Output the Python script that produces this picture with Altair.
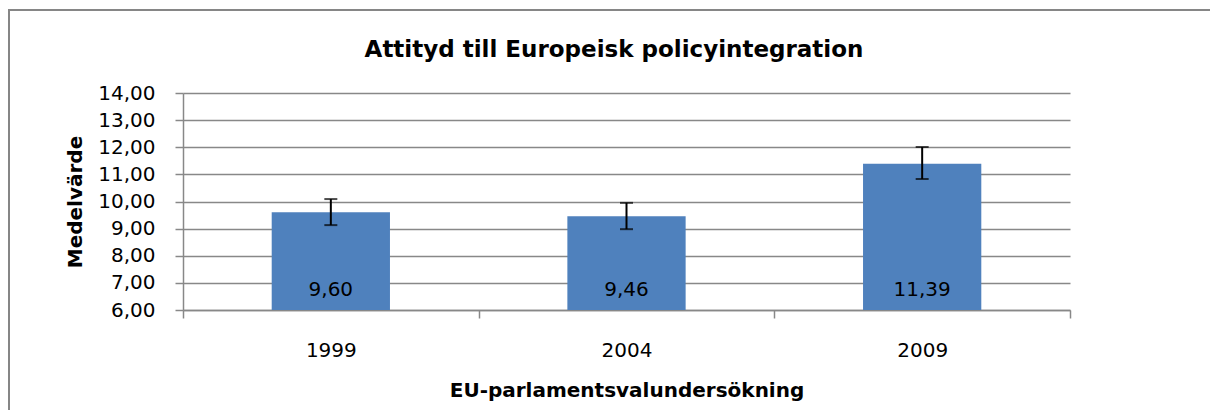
import altair as alt
import pandas as pd

years = ["1999", "2004", "2009"]
means = [9.60, 9.46, 11.39]
ci_low = [9.13, 8.98, 10.83]
ci_high = [10.09, 9.95, 12.01]

chart_title = "Attityd till Europeisk policyintegration"
x_title = "EU-parlamentsvalundersökning"
y_title = "Medelvärde"
y_domain = [6, 14]
y_ticks = [6, 7, 8, 9, 10, 11, 12, 13, 14]

df = pd.DataFrame({"year": years, "mean": means, "lo": ci_low, "hi": ci_high})
df["label"] = [f"{v:.2f}".replace(".", ",") for v in means]
df["base"] = y_domain[0]
tdf = pd.DataFrame({"t": [chart_title]})

W, H = 887, 217
FONT = "DejaVu Sans"
GRID = "#888888"

x_axis = alt.Axis(
    title=x_title, labelAngle=0, tickBand="extent", tickSize=8, tickColor=GRID,
    tickWidth=1.5, domainColor=GRID, domainWidth=1.5, labelPadding=22,
    labelFontSize=20, labelFont=FONT, labelColor="black", titleFont=FONT,
    titleFontSize=20, titleFontWeight="bold", titleColor="black", titleY=80,
    titleBaseline="middle", grid=False,
)
y_axis = alt.Axis(
    title=y_title, values=y_ticks, grid=True, gridColor=GRID, gridWidth=1.5,
    tickSize=8, tickColor=GRID, tickWidth=1.5, domainColor=GRID, domainWidth=1.5,
    labelPadding=20, labelFontSize=20, labelFont=FONT, labelColor="black",
    labelExpr="replace(format(datum.value, '.2f'), '.', ',')",
    titleFont=FONT, titleFontSize=20, titleFontWeight="bold", titleColor="black",
    titleX=-108, titleY=H / 2, titleAlign="center", titleBaseline="middle",
)
x_scale = alt.Scale(paddingInner=0, paddingOuter=0)
y_scale = alt.Scale(domain=y_domain, zero=False, nice=False)

X = alt.X("year:N", sort=years, scale=x_scale, axis=x_axis)

bars = alt.Chart(df).mark_bar(color="#4F81BD", width=alt.RelativeBandSize(0.4)).encode(
    x=X, y=alt.Y("mean:Q", scale=y_scale, axis=y_axis), y2="base:Q"
)
err = alt.Chart(df).mark_rule(color="black", strokeWidth=2).encode(
    x=X, y=alt.Y("lo:Q", scale=y_scale, axis=y_axis), y2="hi:Q"
)
cap_lo = alt.Chart(df).mark_tick(color="black", size=13, thickness=2).encode(
    x=X, y=alt.Y("lo:Q", scale=y_scale, axis=y_axis)
)
cap_hi = alt.Chart(df).mark_tick(color="black", size=13, thickness=2).encode(
    x=X, y=alt.Y("hi:Q", scale=y_scale, axis=y_axis)
)
labels = alt.Chart(df).mark_text(fontSize=20, font=FONT, color="black", baseline="middle").encode(
    x=X, y=alt.value(197), text="label:N"
)
title = alt.Chart(tdf).mark_text(fontSize=23, font=FONT, fontWeight="bold", color="black",
                                 baseline="middle", align="center").encode(
    x=alt.value(431), y=alt.value(-43), text="t:N"
)
border_top = alt.Chart(tdf).mark_rule(color="#868686", strokeWidth=2).encode(
    x=alt.value(-175), x2=alt.value(1027), y=alt.value(-83)
)
border_left = alt.Chart(tdf).mark_rule(color="#868686", strokeWidth=2).encode(
    x=alt.value(-174), y=alt.value(-84), y2=alt.value(H + 100)
)

chart = alt.layer(border_top, border_left, bars, err, cap_lo, cap_hi, labels, title).properties(
    width=W, height=H,
    padding={"left": 175, "top": 85, "right": 140, "bottom": 100},
    autosize=alt.AutoSizeParams(type="none"),
    background="white",
).configure_view(strokeWidth=0)

chart.save("out.html", embed_options={"renderer": "svg", "actions": False})
